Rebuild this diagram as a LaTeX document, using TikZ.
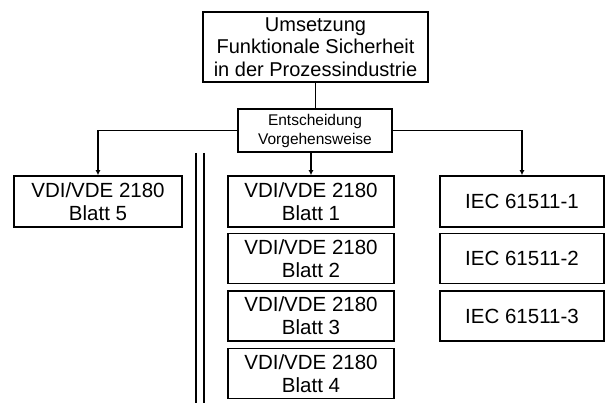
\documentclass[tikz,border=0pt]{standalone}
\usepackage{fontspec}
\setmainfont{Liberation Sans}
\usetikzlibrary{arrows.meta}
\begin{document}
\begin{tikzpicture}[x=1pt,y=-1pt,
  box/.style={draw=black,line width=1.6pt,inner sep=0pt,align=center,font=\fontsize{20.5}{23}\selectfont},
  conn/.style={line width=1.6pt,-{Latex[length=5pt,width=5pt]}},
  plain/.style={line width=1.6pt}]
\useasboundingbox[fill=white] (0,0) rectangle (606,403);
\node[box,minimum width=225pt,minimum height=70pt,font=\fontsize{20}{22.5}\selectfont] (top) at (315.5,47) {Umsetzung\\Funktionale Sicherheit\\in der Prozessindustrie};
\node[box,minimum width=154pt,minimum height=43pt,font=\fontsize{15.5}{19}\selectfont] (ent) at (315,130.5) {Entscheidung\\Vorgehensweise};
\node[box,minimum width=168pt,minimum height=51pt] (b5) at (98,201.5) {VDI/VDE 2180\\Blatt 5};
\node[box,minimum width=166pt,minimum height=51pt] (b1) at (311,201.5) {VDI/VDE 2180\\Blatt 1};
\node[box,minimum width=166pt,minimum height=50pt] (b2) at (311,258.5) {VDI/VDE 2180\\Blatt 2};
\node[box,minimum width=166pt,minimum height=50pt] (b3) at (311,316) {VDI/VDE 2180\\Blatt 3};
\node[box,minimum width=166pt,minimum height=50pt] (b4) at (311,373.5) {VDI/VDE 2180\\Blatt 4};
\node[box,minimum width=164pt,minimum height=51pt] (i1) at (522,201.5) {IEC 61511-1};
\node[box,minimum width=164pt,minimum height=50pt] (i2) at (522,258.5) {IEC 61511-2};
\node[box,minimum width=164pt,minimum height=50pt] (i3) at (522,316) {IEC 61511-3};
\draw[plain] (top.south) -- (top.south |- ent.north);
\draw[conn] (ent.west) -| (b5.north);
\draw[conn] (ent.east) -| (i1.north);
\draw[conn] (ent.south -| b1.north) -- (b1.north);
\coordinate (d1a) at (196,153);
\coordinate (d1b) at (196,403);
\coordinate (d2a) at (204,153);
\coordinate (d2b) at (204,403);
\draw[plain] (d1a) -- (d1b);
\draw[plain] (d2a) -- (d2b);
\end{tikzpicture}
\end{document}
